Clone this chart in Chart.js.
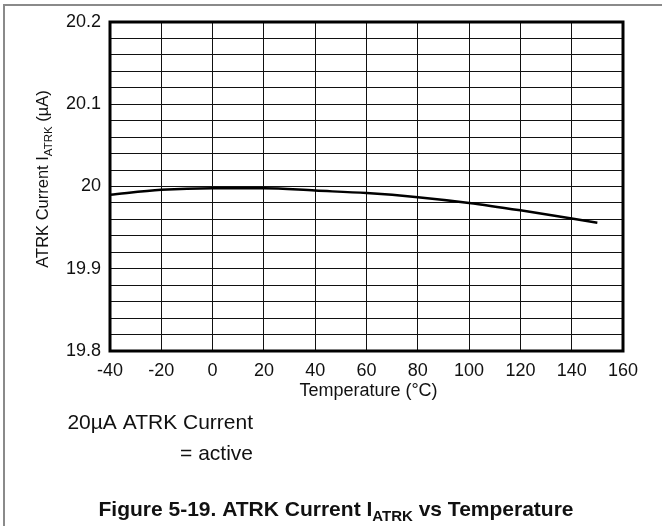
<!DOCTYPE html>
<html>
<head>
<meta charset="utf-8">
<title>ATRK Current vs Temperature</title>
<script src="https://cdn.jsdelivr.net/npm/chart.js@4/dist/chart.umd.min.js"></script>
<style>
  html, body { margin: 0; padding: 0; background: #fff; }
  #wrap { position: relative; width: 662px; height: 529px; overflow: hidden; }
  #frame { position: absolute; left: 3px; top: 4px; width: 700px; height: 520px;
           border-top: 2px solid #8a8a8a; border-left: 2px solid #8a8a8a; }
  canvas { position: absolute; left: 0; top: 0; }
</style>
</head>
<body>
<div id="wrap">
  <div id="frame"></div>
  <canvas id="chart" width="662" height="529"></canvas>
</div>
<script>
// Temperature sweep (°C) and measured ATRK current (µA)
const temperatures = [-40, -20, 0, 20, 40, 60, 80, 100, 120, 140, 150];
const atrkCurrent  = [19.990, 19.996, 19.998, 19.998, 19.995, 19.992, 19.987, 19.980, 19.971, 19.961, 19.956];

// Axis ranges and label steps
const xRange = { min: -40, max: 160, step: 20 };
const yRange = { min: 19.8, max: 20.2, grid: 0.02, labelEvery: 0.1 };

const FONT = '"Liberation Sans", Arial, Helvetica, sans-serif';
const INK = '#111';

// Draws a run of text pieces (normal / subscript) anchored at x, on baseline y
function drawRich(ctx, parts, x, y, align) {
  let total = 0;
  const widths = parts.map(p => {
    ctx.font = (p.bold ? 'bold ' : '') + p.size + 'px ' + FONT;
    const w = ctx.measureText(p.t).width;
    total += w;
    return w;
  });
  let cx = align === 'center' ? x - total / 2 : align === 'right' ? x - total : x;
  parts.forEach((p, i) => {
    ctx.font = (p.bold ? 'bold ' : '') + p.size + 'px ' + FONT;
    ctx.fillText(p.t, cx, y + (p.dy || 0));
    cx += widths[i];
  });
}

const frameAndText = {
  id: 'frameAndText',
  afterDraw(chart) {
    const { ctx, chartArea: a } = chart;
    ctx.save();
    // heavy plot border
    ctx.strokeStyle = '#000';
    ctx.lineWidth = 3;
    ctx.strokeRect(a.left, a.top, a.right - a.left, a.bottom - a.top);

    ctx.fillStyle = INK;
    ctx.textAlign = 'left';
    ctx.textBaseline = 'alphabetic';

    // x-axis title
    drawRich(ctx, [{ t: 'Temperature (°C)', size: 18 }], (a.left + a.right) / 2 + 2, 396, 'center');

    // y-axis title, rotated
    ctx.save();
    ctx.translate(48, 179);
    ctx.rotate(-Math.PI / 2);
    drawRich(ctx, [
      { t: 'ATRK Current I', size: 16.5 },
      { t: 'ATRK', size: 11.5, dy: 4 },
      { t: ' (\u00B5A)', size: 16.5 }
    ], 0, 0, 'center');
    ctx.restore();

    // condition notes
    drawRich(ctx, [{ t: '20\u00B5A ATRK Current', size: 21 }], 253, 429, 'right');
    drawRich(ctx, [{ t: '= active', size: 21 }], 253, 460, 'right');

    // figure caption
    drawRich(ctx, [
      { t: 'Figure 5-19. ATRK Current I', size: 21, bold: true },
      { t: 'ATRK', size: 15, bold: true, dy: 5 },
      { t: ' vs Temperature', size: 21, bold: true }
    ], 336, 516, 'center');
    ctx.restore();
  }
};

new Chart(document.getElementById('chart'), {
  type: 'line',
  data: {
    datasets: [{
      data: temperatures.map((t, i) => ({ x: t, y: atrkCurrent[i] })),
      borderColor: '#000',
      borderWidth: 2.5,
      pointRadius: 0,
      fill: false,
      cubicInterpolationMode: 'monotone'
    }]
  },
  options: {
    responsive: false,
    animation: false,
    devicePixelRatio: 1,
    layout: { padding: { left: 0, top: 22, right: 39, bottom: 0 } },
    plugins: { legend: { display: false }, tooltip: { enabled: false } },
    scales: {
      x: {
        type: 'linear',
        min: xRange.min, max: xRange.max,
        afterFit(s) { s.height = 178; },
        border: { display: false },
        grid: { color: '#111', lineWidth: 1, drawTicks: false },
        ticks: {
          stepSize: xRange.step, autoSkip: false, maxRotation: 0, padding: 9,
          color: INK, font: { family: FONT, size: 18 }
        }
      },
      y: {
        type: 'linear',
        min: yRange.min, max: yRange.max,
        afterFit(s) { s.width = 110; },
        border: { display: false },
        grid: { color: '#111', lineWidth: 1, drawTicks: false },
        ticks: {
          stepSize: yRange.grid, autoSkip: false, padding: 9,
          color: INK, font: { family: FONT, size: 18 },
          callback(v) {
            const hundredths = Math.round(v * 100);
            return hundredths % Math.round(yRange.labelEvery * 100) === 0
              ? String(Number(v.toFixed(1))) : '';
          }
        }
      }
    }
  },
  plugins: [frameAndText]
});
</script>
</body>
</html>
